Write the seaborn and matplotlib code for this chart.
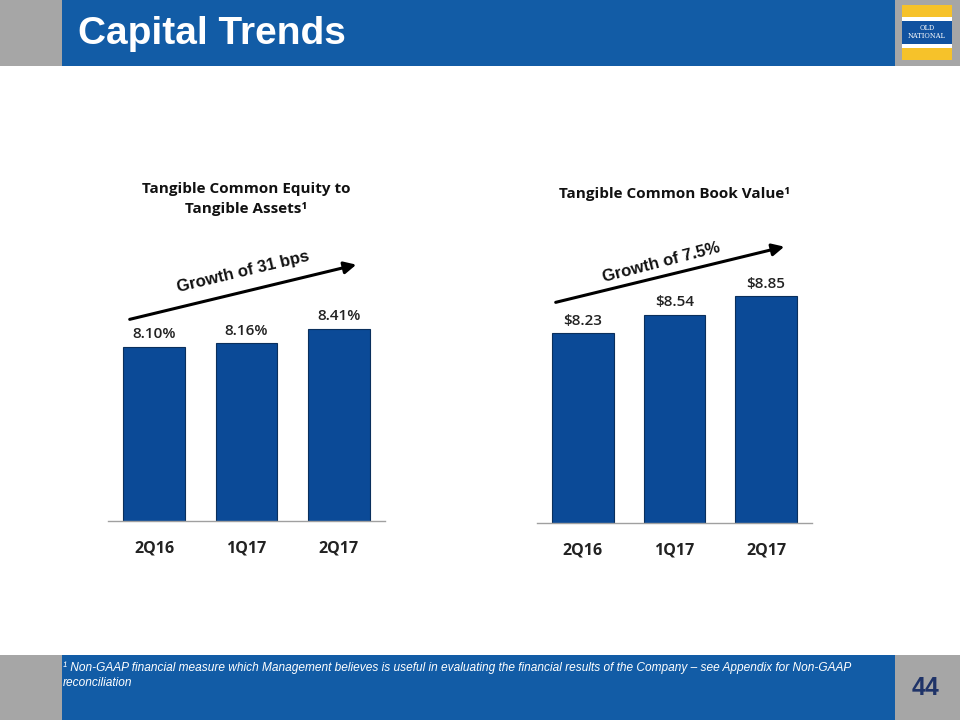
import matplotlib
matplotlib.use("Agg")
import matplotlib.pyplot as plt
import seaborn as sns
import pandas as pd
from matplotlib.patches import Rectangle, FancyArrowPatch

sns.set_theme(style="white")
plt.rcParams['font.family'] = ['Open Sans', 'DejaVu Sans']

# ---- data ----
quarters = ["2Q16", "1Q17", "2Q17"]
tce_ratio = [8.10, 8.16, 8.41]
tce_labels = ["8.10%", "8.16%", "8.41%"]
tbv = [8.23, 8.54, 8.85]
tbv_labels = ["$8.23", "$8.54", "$8.85"]

title_left = "Tangible Common Equity to\nTangible Assets\u00b9"
title_right = "Tangible Common Book Value\u00b9"
growth_left = "Growth of 31 bps"
growth_right = "Growth of 7.5%"
slide_title = "Capital Trends"
footnote = ("\u00b9 Non-GAAP financial measure which Management believes is useful in evaluating the financial "
            "results of the Company \u2013 see Appendix for Non-GAAP\nreconciliation")
page_no = "44"

W, H = 960, 720
BAR = "#0B4A97"
BAND = "#125CA6"
GREY = "#A6A6A6"

fig = plt.figure(figsize=(9.6, 7.2), dpi=100)
fig.patch.set_facecolor("white")

def fx(x):
    return x / W

def fy(y):
    return 1 - y / H

def frect(x0, y0, x1, y1, color, z=0):
    fig.patches.append(Rectangle((fx(x0), fy(y1)), fx(x1 - x0), (y1 - y0) / H,
                                 transform=fig.transFigure, facecolor=color,
                                 edgecolor="none", zorder=z))

# header / footer bands
frect(0, 0, 62, 66, GREY)
frect(62, 0, 895, 66, BAND)
frect(895, 0, 960, 66, GREY)
frect(0, 655, 62, 720, GREY)
frect(62, 655, 895, 720, BAND)
frect(895, 655, 960, 720, GREY)
# logo
frect(902, 5, 952, 17, "#F6C22A", 1)
frect(902, 17, 952, 21, "white", 1)
frect(902, 21, 952, 44, "#1152A0", 1)
frect(902, 44, 952, 48, "white", 1)
frect(902, 48, 952, 60, "#F6C22A", 1)
fig.text(fx(927), fy(32.5), "OLD\nNATIONAL", color="white", fontsize=4.8,
         family=["DejaVu Serif"], ha="center", va="center", linespacing=1.0, zorder=2)

fig.text(fx(78), fy(34), slide_title, color="white", fontsize=28, fontweight="bold",
         family=["Liberation Sans", "DejaVu Sans"], ha="left", va="center")
fig.text(fx(63), fy(675), footnote, color="white", fontsize=8.6, fontstyle="italic",
         family=["Liberation Sans", "DejaVu Sans"], ha="left", va="center",
         linespacing=1.3)
fig.text(fx(925), fy(688), page_no, color="#1F3368", fontsize=18, fontweight="bold",
         family=["Liberation Sans", "DejaVu Sans"], ha="center", va="center")


def panel(x0, x1, ybase, ytop, ymin, ppu, values, labels, title, title_y):
    ax = fig.add_axes([fx(x0), fy(ybase), fx(x1 - x0), (ybase - ytop) / H])
    df = pd.DataFrame({"q": quarters, "v": values})
    sns.barplot(data=df, x="q", y="v", color=BAR, width=0.67, edgecolor="#0A2F5C",
                linewidth=0.8, saturation=1, ax=ax)
    ax.set_ylim(ymin, ymin + (ybase - ytop) / ppu)
    ax.set_xlim(-0.5, 2.5)
    ax.set_xlabel("")
    ax.set_ylabel("")
    ax.set_yticks([])
    for s in ["top", "right", "left"]:
        ax.spines[s].set_visible(False)
    ax.spines["bottom"].set_color("#A0A0A0")
    ax.spines["bottom"].set_linewidth(1.0)
    ax.tick_params(axis="x", length=0, pad=14)
    for t in ax.get_xticklabels():
        t.set_fontsize(11.5)
        t.set_fontweight("bold")
        t.set_color("#222222")
    for i, (v, lab) in enumerate(zip(values, labels)):
        ax.annotate(lab, (i, v), xytext=(0, 4), textcoords="offset points",
                    ha="center", va="bottom", fontsize=11, fontweight="semibold",
                    color="#222222")
    fig.text(fx((x0 + x1) / 2), fy(title_y), title, ha="center", va="center",
             fontsize=11, fontweight="bold", color="#111111", linespacing=1.55)
    return ax


panel(108, 385, 521, 230, 5.1, 58.06, tce_ratio, tce_labels, title_left, 199)
panel(537, 812, 523, 230, 5.05, 59.7, tbv, tbv_labels, title_right, 194)

# growth arrows
for (xa, ya, xb, yb), txt, (tx, ty), rot in [
        ((127, 320, 359, 264), growth_left, (243, 272), 13.5),
        ((553, 303, 787, 246), growth_right, (661, 263), 14.5)]:
    fig.add_artist(FancyArrowPatch(
        (fx(xa), fy(ya)), (fx(xb), fy(yb)), transform=fig.transFigure,
        arrowstyle="-|>,head_length=6,head_width=3", mutation_scale=1.2,
        color="black", linewidth=2.2))
    fig.text(fx(tx), fy(ty), txt, rotation=rot, ha="center", va="center",
             fontsize=12, fontweight="bold", color="#111111",
             family=["Liberation Sans", "DejaVu Sans"], rotation_mode="anchor")

fig.savefig("out.png", dpi=100, facecolor="white")
